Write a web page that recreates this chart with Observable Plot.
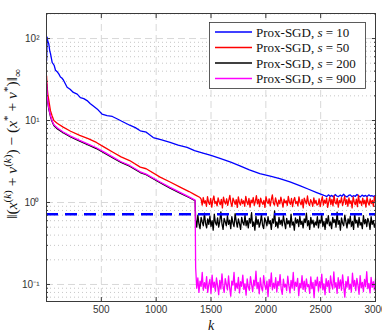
<!DOCTYPE html>
<html><head><meta charset="utf-8">
<script src="https://cdn.jsdelivr.net/npm/d3@7"></script>
<script src="https://cdn.jsdelivr.net/npm/@observablehq/plot@0.6"></script>
<style>html,body{margin:0;padding:0;background:#fff}svg{display:block}</style>
</head><body><div id="chart"></div>
<script>
// ---- series meta ----
const seriesS = [10, 50, 200, 900];
const seriesColors = ["#0000ff", "#ff0000", "#000000", "#ff00ff"];
const methodName = "Prox-SGD";

// ---- ticks ----
const xTicks = [500, 1000, 1500, 2000, 2500, 3000];
const xGrid = [500, 1000, 1500, 2000, 2500];
const yMajor = [0.1, 1, 10, 100];
const yMajorLabels = ["10⁻¹", "10⁰", "10¹", "10²"];
const yMinor = [0.07, 0.08, 0.09, 0.2, 0.3, 0.4, 0.5, 0.6, 0.7, 0.8, 0.9,
  2, 3, 4, 5, 6, 7, 8, 9, 20, 30, 40, 50, 60, 70, 80, 90, 200];
const threshold = [0.72];

// ---- s = 10 (blue) ----
const blueK = [1, 4, 6, 10, 21, 30, 36, 52, 70, 82, 100, 112, 127, 140, 155, 188, 215, 245, 280, 309, 340, 370, 400, 427, 470, 506, 552, 600, 642, 700, 764, 810, 855, 910, 973, 1050, 1127, 1200, 1282, 1350, 1427, 1500, 1582, 1680, 1764, 1850, 1945, 2040, 2127, 2220, 2309, 2390, 2464, 2530];
const blueV = [54, 80, 104, 95, 86, 70, 66, 51, 47, 41, 39, 37, 34, 33, 31, 25.5, 24, 22, 21, 19, 18.5, 17.5, 16, 15, 13.5, 12, 11.5, 11.2, 10.5, 9.6, 8.7, 8.2, 7.5, 7.2, 6.2, 5.8, 5.4, 5.0, 4.7, 4.3, 4.0, 3.75, 3.45, 3.1, 2.8, 2.5, 2.25, 2.1, 1.96, 1.78, 1.61, 1.45, 1.32, 1.22];
const blueNoiseStart = 2540;
const blueNoise = [1.21,1.18,1.24,1.19,1.22,1.17,1.25,1.20,1.18,1.23,
  1.19,1.26,1.20,1.17,1.22,1.24,1.18,1.21,1.19,1.25,
  1.20,1.17,1.23,1.19,1.22,1.18,1.24,1.20,1.21,1.18,1.23];

// ---- s = 50 (red) ----
const redK = [1, 3, 6, 12, 21, 36, 50, 67, 100, 152, 220, 303, 380, 455, 530, 606, 680, 758, 855, 909, 1036, 1127, 1218, 1300, 1355, 1400];
const redV = [35, 30, 25.5, 21, 17.6, 13.2, 11.5, 10, 9.2, 8.3, 7.4, 6.6, 6.0, 5.4, 4.7, 4.1, 3.6, 3.25, 2.7, 2.58, 2.04, 1.78, 1.54, 1.36, 1.24, 1.15];
const redNoiseStart = 1410;
const redNoise = [1.10,0.93,1.15,0.98,1.05,0.90,1.18,1.00,0.95,1.12,
  0.88,1.07,1.20,0.97,1.03,0.91,1.14,1.01,0.94,1.09,
  0.86,1.16,1.02,0.96,1.11,0.92,1.06,1.22,0.99,0.89,
  1.13,1.04,0.95,1.08,0.87,1.17,1.00,0.93,1.10,0.97,
  1.05,0.90,1.19,1.02,0.94,1.12,0.88,1.07,0.99,1.15,
  0.92,1.04,1.21,0.96,1.09,0.89,1.13,1.01,0.95,1.06,
  0.87,1.18,1.03,0.97,1.11,0.91,1.08,1.24,0.98,0.93,
  1.14,1.00,0.90,1.07,0.96,1.16,1.02,0.88,1.10,0.99,
  1.05,0.92,1.19,1.01,0.95,1.12,0.89,1.06,1.15,0.97,
  1.03,0.91,1.17,1.00,0.94,1.09,0.86,1.13,1.04,0.96,
  1.20,0.98,0.92,1.08,1.01,0.90,1.14,0.97,1.06,0.93,
  0.95,1.11,0.89,1.04,1.18,0.93,1.07,0.98,1.13,0.87,
  1.02,1.16,0.94,1.09,0.91,1.21,1.00,0.96,1.12,0.88,
  1.06,0.99,1.15,0.92,1.03,1.19,0.95,1.08,0.90,1.14,
  0.97,1.05,0.86,1.17,1.01,0.94,1.10,0.89,1.23,0.98,
  1.04,0.92,1.13,0.96,1.07,0.88,1.16,1.00,0.93,1.11,
  0.97,1.06,0.90,1.18,1.02];

// ---- s = 200 (black) ----
const blackK = [1, 3, 6, 12, 21, 36, 50, 67, 100, 152, 220, 303, 380, 455, 530, 606, 680, 758, 855, 909, 1036, 1127, 1218, 1300, 1355];
const blackV = [28, 24, 20, 16.5, 13.8, 11.2, 9.8, 8.7, 7.9, 7.1, 6.3, 5.6, 5.05, 4.55, 4.0, 3.5, 3.08, 2.77, 2.32, 2.18, 1.74, 1.5, 1.3, 1.15, 1.05];
const blackNoiseStart = 1360;
const blackNoise = [0.62,0.50,0.70,0.55,0.48,0.66,0.58,0.52,0.74,0.56,
  0.49,0.63,0.54,0.68,0.51,0.60,0.46,0.72,0.57,0.53,
  0.65,0.50,0.59,0.77,0.55,0.47,0.64,0.58,0.52,0.69,
  0.54,0.61,0.48,0.67,0.56,0.51,0.73,0.59,0.50,0.63,
  0.55,0.47,0.66,0.57,0.53,0.70,0.52,0.60,0.49,0.64,
  0.56,0.75,0.51,0.58,0.46,0.68,0.54,0.62,0.50,0.57,
  0.71,0.53,0.48,0.65,0.59,0.52,0.67,0.55,0.60,0.47,
  0.63,0.56,0.79,0.51,0.58,0.49,0.66,0.54,0.61,0.52,
  0.69,0.57,0.48,0.64,0.55,0.60,0.50,0.72,0.53,0.58,
  0.46,0.65,0.56,0.62,0.51,0.68,0.54,0.59,0.49,0.63,
  0.57,0.74,0.52,0.60,0.47,0.66,0.55,0.61,0.50,0.58,
  0.53,0.67,0.49,0.61,0.56,0.71,0.51,0.59,0.47,0.64,
  0.55,0.69,0.52,0.58,0.48,0.66,0.57,0.62,0.50,0.76,
  0.54,0.60,0.46,0.65,0.56,0.52,0.70,0.58,0.49,0.63,
  0.55,0.68,0.51,0.59,0.47,0.73,0.56,0.61,0.50,0.66,
  0.53,0.57,0.48,0.69,0.55,0.62,0.51,0.64,0.58,0.47,
  0.67,0.54,0.60,0.50,0.56];

// ---- s = 900 (magenta) ----
const magentaK = [1, 3, 6, 12, 21, 36, 50, 67, 100, 152, 220, 303, 380, 455, 530, 606, 680, 758, 855, 909, 1036, 1127, 1218, 1300, 1355];
const magentaV = [29, 25, 21, 17, 14.2, 11.5, 10.0, 8.9, 8.1, 7.25, 6.45, 5.72, 5.15, 4.65, 4.08, 3.57, 3.14, 2.83, 2.37, 2.22, 1.78, 1.53, 1.33, 1.17, 1.07];
const magentaNoiseStart = 1360;
const magentaNoise = [0.16,0.09,0.12,0.08,0.11,0.095,0.14,0.085,0.105,0.09,
  0.125,0.08,0.10,0.115,0.078,0.13,0.092,0.107,0.083,0.12,
  0.097,0.075,0.112,0.088,0.135,0.094,0.08,0.118,0.1,0.086,
  0.127,0.091,0.072,0.11,0.098,0.14,0.084,0.104,0.09,0.122,
  0.079,0.108,0.095,0.13,0.087,0.102,0.074,0.117,0.093,0.085,
  0.125,0.1,0.082,0.113,0.096,0.145,0.089,0.106,0.077,0.12,
  0.092,0.083,0.128,0.099,0.087,0.11,0.071,0.115,0.094,0.138,
  0.086,0.104,0.09,0.121,0.081,0.109,0.096,0.132,0.088,0.076,
  0.116,0.093,0.101,0.084,0.126,0.097,0.079,0.112,0.09,0.14,
  0.085,0.107,0.095,0.119,0.073,0.103,0.091,0.128,0.087,0.11,
  0.082,0.117,0.094,0.1,0.078,0.124,0.089,0.106,0.069,0.113,
  0.097,0.123,0.083,0.108,0.091,0.134,0.086,0.102,0.075,0.118,
  0.094,0.111,0.08,0.127,0.099,0.088,0.142,0.092,0.105,0.078,
  0.121,0.09,0.114,0.085,0.131,0.096,0.07,0.109,0.093,0.125,
  0.087,0.101,0.081,0.137,0.095,0.112,0.084,0.119,0.098,0.076,
  0.128,0.091,0.106,0.082,0.115,0.094,0.143,0.089,0.103,0.079,
  0.122,0.092,0.108,0.086,0.117];

const kMax = 3000;
function build(K, V, noiseStart, noise) {
  const rows = K.map((k, i) => ({k, v: V[i]}));
  const step = (kMax - noiseStart) / (noise.length - 1);
  noise.forEach((v, i) => rows.push({k: noiseStart + i * step, v}));
  return rows;
}
const series = [
  build(blueK, blueV, blueNoiseStart, blueNoise),
  build(redK, redV, redNoiseStart, redNoise),
  build(blackK, blackV, blackNoiseStart, blackNoise),
  build(magentaK, magentaV, magentaNoiseStart, magentaNoise)
];

const axisColor = "#3a3a3a";
const lineMarks = series.map((rows, i) =>
  Plot.line(rows, {x: "k", y: "v", stroke: seriesColors[i], strokeWidth: 1.3}));

const plot = Plot.plot({
  width: 382, height: 332,
  marginLeft: 46, marginRight: 7, marginTop: 13, marginBottom: 31,
  x: {domain: [0, kMax], label: null},
  y: {type: "log", domain: [0.062, 202], label: null},
  style: {fontFamily: "'Liberation Sans', Arial, sans-serif", fontSize: "10px", color: "#333", background: "white"},
  marks: [
    Plot.gridY(yMinor, {stroke: "#b8b8b8", strokeOpacity: 1, strokeWidth: 0.8, strokeDasharray: "1,3"}),
    Plot.gridY(yMajor, {stroke: "#d8d8d8", strokeOpacity: 1, strokeDasharray: "7,4"}),
    Plot.gridX(xGrid, {stroke: "#d8d8d8", strokeOpacity: 1, strokeDasharray: "7,4"}),
    ...lineMarks,
    Plot.ruleY(threshold, {stroke: "#0000ff", strokeWidth: 2.6, strokeDasharray: "12,7"}),
    Plot.frame({stroke: axisColor, strokeWidth: 1}),
    Plot.axisX(xTicks, {anchor: "bottom", tickSize: -4, tickFormat: () => "", label: null, stroke: axisColor}),
    Plot.axisX(xTicks, {anchor: "top", tickSize: -4, tickFormat: () => "", label: null, stroke: axisColor}),
    Plot.axisY(yMajor, {anchor: "left", tickSize: -4, tickFormat: () => "", label: null, stroke: axisColor}),
    Plot.axisY(yMajor, {anchor: "right", tickSize: -4, tickFormat: () => "", label: null, stroke: axisColor}),
    Plot.axisY(yMinor, {anchor: "left", tickSize: -2, tickFormat: () => "", label: null, stroke: axisColor}),
    Plot.axisY(yMinor, {anchor: "right", tickSize: -2, tickFormat: () => "", label: null, stroke: axisColor}),
    Plot.axisX(xTicks, {anchor: "bottom", tickSize: 0, tickPadding: 4, label: null, fill: "#333", tickFormat: d => String(d)}),
    Plot.axisY(yMajor, {anchor: "left", tickSize: 0, tickPadding: 7, label: null, fill: "#333", tickFormat: d => yMajorLabels[yMajor.indexOf(d)]}),
    Plot.text(["k"], {frameAnchor: "bottom", dy: 28, lineAnchor: "bottom", fontStyle: "italic", fontFamily: "'Liberation Serif', serif", fontSize: 14, fill: "#111"})
  ]
});
document.getElementById("chart").appendChild(plot);

// ---- y-axis label (math text) ----
const svg = d3.select(plot);
const serif = "'Liberation Serif', 'DejaVu Serif', serif";
const yl = svg.append("text")
  .attr("transform", "translate(17,144) rotate(-90)")
  .attr("text-anchor", "middle")
  .attr("font-family", serif).attr("font-size", 15.5).attr("fill", "#111");
const parts = [
  ["‖(", 0, false], ["x", 0, true], ["(", 1, false], ["k", 1, true], [")", 1, false],
  [" + ", 0, false], ["v", 0, true], ["(", 1, false], ["k", 1, true], [")", 1, false],
  [") − (", 0, false], ["x", 0, true], ["*", 1, false], [" + ", 0, false],
  ["v", 0, true], ["*", 1, false], [")‖", 0, false], ["∞", -1, false]
];
let cur = 0;
parts.forEach(([t, lvl, it]) => {
  const shift = lvl === 1 ? -6 : lvl === -1 ? 4 : 0;
  const ts = yl.append("tspan").text(t).attr("dy", shift - cur);
  if (lvl !== 0) ts.attr("font-size", 11);
  if (it) ts.attr("font-style", "italic");
  cur = shift;
});

// ---- legend ----
const lg = svg.append("g").attr("text-anchor", "start");
lg.append("rect").attr("x", 209.5).attr("y", 22.5).attr("width", 156).attr("height", 66)
  .attr("fill", "#fff").attr("stroke", "#333").attr("stroke-width", 0.8);
seriesS.forEach((s, i) => {
  const y = 32 + i * 15.5;
  lg.append("line").attr("x1", 215).attr("x2", 252).attr("y1", y).attr("y2", y)
    .attr("stroke", seriesColors[i]).attr("stroke-width", 1.3);
  const t = lg.append("text").attr("x", 256).attr("y", y + 4.5).attr("text-anchor", "start")
    .attr("font-family", serif).attr("font-size", 13).attr("fill", "#111");
  t.append("tspan").text(methodName + ", ");
  t.append("tspan").attr("font-style", "italic").text("s");
  t.append("tspan").text(" = " + s);
});
</script></body></html>
